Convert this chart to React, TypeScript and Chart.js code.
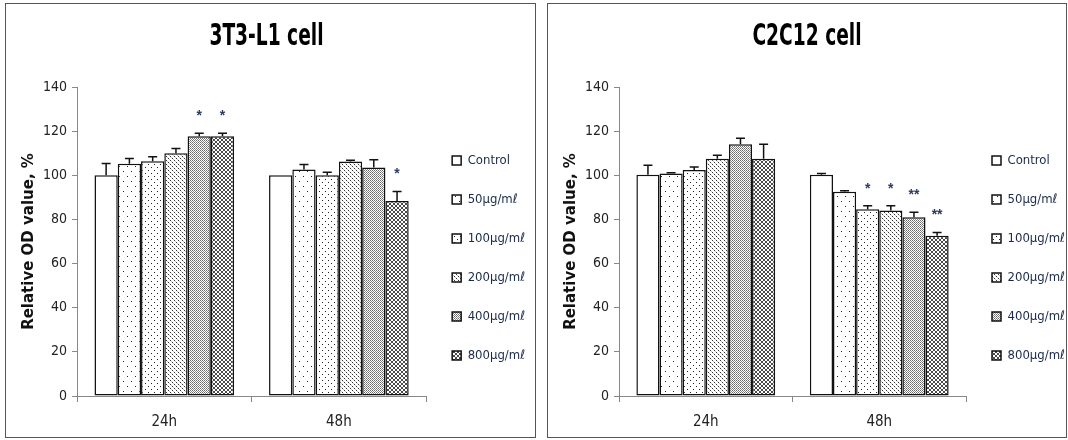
import React, { useEffect, useRef } from 'react';
import { Chart, registerables } from 'chart.js';

Chart.register(...registerables);

// ---------- data ----------
const categories = ['24h', '48h'];
const doses = ['Control', '50µg/mℓ', '100µg/mℓ', '200µg/mℓ', '400µg/mℓ', '800µg/mℓ'];
const yMin = 0;
const yMax = 140;
const yStep = 20;

// 3T3-L1 cell (values per dose, in dose order)
const t3Values24h = [100, 105.2, 106.4, 110, 117.7, 117.7];
const t3Values48h = [100, 102.6, 100, 106.2, 103.5, 88.4];
const t3Err24h = [5.3, 2.4, 2.0, 2.1, 1.4, 1.4];
const t3Err48h = [0, 2.3, 1.4, 0.6, 3.5, 4.3];
const t3Stars24h = ['', '', '', '', '*', '*'];
const t3Stars48h = ['', '', '', '', '', '*'];

// C2C12 cell
const c2Values24h = [100.2, 100.8, 102.4, 107.5, 114.1, 107.5];
const c2Values48h = [100.2, 92.5, 84.6, 84, 81, 72.6];
const c2Err24h = [4.4, 0.3, 1.4, 1.6, 2.7, 6.6];
const c2Err48h = [0.6, 0.5, 1.6, 2.2, 2.2, 1.5];
const c2Stars24h = ['', '', '', '', '', ''];
const c2Stars48h = ['', '', '*', '*', '**', '**'];

const NARROW = "'Liberation Sans Narrow', 'DejaVu Sans Condensed', 'Liberation Sans', sans-serif";

function makePattern(kind: number): CanvasPattern | string {
  if (kind === 0) return '#ffffff';
  const c = document.createElement('canvas');
  const ctx = c.getContext('2d')!;
  const sizes: Record<number, [number, number]> = { 1: [8, 10], 2: [6, 6], 3: [4, 4], 4: [2, 2], 5: [4, 4] };
  const [w, h] = sizes[kind];
  c.width = w;
  c.height = h;
  ctx.fillStyle = '#ffffff';
  ctx.fillRect(0, 0, w, h);
  const dot = (x: number, y: number, col = '#222') => {
    ctx.fillStyle = col;
    ctx.fillRect(x, y, 1, 1);
  };
  if (kind === 1) {
    dot(1, 2);
    dot(5, 7);
  } else if (kind === 2) {
    dot(1, 1);
    dot(4, 4);
  } else if (kind === 3) {
    dot(0, 0, '#333');
    dot(2, 2, '#333');
    dot(1, 1, '#c8c8c8');
    dot(3, 3, '#c8c8c8');
  } else if (kind === 4) {
    dot(0, 0, '#6a6a6a');
    dot(1, 1, '#8a8a8a');
  } else if (kind === 5) {
    const col = '#4a4a4a';
    [[0, 0], [1, 1], [2, 2], [3, 3], [3, 0], [2, 1], [1, 2], [0, 3]].forEach(([x, y]) => dot(x, y, col));
  }
  return ctx.createPattern(c, 'repeat') as CanvasPattern;
}

interface PanelProps {
  left: number;
  width: number;
  title: string;
  titleDx: number;
  v24: number[];
  v48: number[];
  e24: number[];
  e48: number[];
  s24: string[];
  s48: string[];
}

function Panel({ left, width, title, titleDx, v24, v48, e24, e48, s24, s48 }: PanelProps) {
  const ref = useRef<HTMLCanvasElement>(null);
  const cw = width - 2;
  const ch = 433;

  useEffect(() => {
    const errs = doses.map((_, i) => [e24[i], e48[i]]);
    const stars = doses.map((_, i) => [s24[i], s48[i]]);

    const errPlugin = {
      id: 'errorBarsStars',
      afterDatasetsDraw(chart: any) {
        const ctx = chart.ctx;
        const yScale = chart.scales.y;
        chart.data.datasets.forEach((ds: any, di: number) => {
          const meta = chart.getDatasetMeta(di);
          meta.data.forEach((el: any, ci: number) => {
            const v = ds.data[ci];
            const e = errs[di][ci];
            const yTop = yScale.getPixelForValue(v + e);
            ctx.save();
            ctx.strokeStyle = '#111';
            ctx.lineWidth = 1.5;
            if (e > 0) {
              ctx.beginPath();
              ctx.moveTo(el.x, el.y);
              ctx.lineTo(el.x, yTop);
              ctx.moveTo(el.x - 4.5, yTop);
              ctx.lineTo(el.x + 4.5, yTop);
              ctx.stroke();
            }
            const s = stars[di][ci];
            if (s) {
              ctx.fillStyle = '#2b3a66';
              ctx.font = "bold 14px 'Liberation Sans', sans-serif";
              ctx.textAlign = 'center';
              ctx.textBaseline = 'middle';
              ctx.fillText(s, el.x, yTop - 17);
            }
            ctx.restore();
          });
        });
      },
    };

    const titlePlugin = {
      id: 'condensedTitle',
      afterDraw(chart: any) {
        const ctx = chart.ctx;
        ctx.save();
        ctx.font = "bold 30px 'DejaVu Sans Condensed', 'DejaVu Sans', sans-serif";
        ctx.fillStyle = '#000';
        ctx.textAlign = 'center';
        ctx.textBaseline = 'middle';
        ctx.translate(chart.width / 2 + titleDx, 33);
        ctx.scale(0.69, 1);
        ctx.fillText(title, 0, 0);
        ctx.restore();
      },
    };

    const chart = new Chart(ref.current!, {
      type: 'bar',
      data: {
        labels: categories,
        datasets: doses.map((d, i) => ({
          label: d,
          data: [v24[i], v48[i]],
          backgroundColor: makePattern(i) as any,
          borderColor: '#111',
          borderWidth: 1.5,
          borderSkipped: false,
          categoryPercentage: 0.8,
          barPercentage: 1.0,
        })),
      },
      options: {
        responsive: false,
        animation: false,
        devicePixelRatio: 1,
        layout: { padding: { left: 10, right: 0, top: 83, bottom: -5 } },
        plugins: {
          title: { display: false },
          legend: {
            position: 'right',
            align: 'start',
            maxWidth: cw - 418,
            labels: {
              boxWidth: 9,
              boxHeight: 9,
              padding: 26,
              color: '#1a2a4a',
              font: { size: 13, family: NARROW },
            },
            title: { display: true, text: '', padding: { top: 29, bottom: 0 }, font: { size: 10 } },
          },
          tooltip: { enabled: false },
        },
        scales: {
          x: {
            grid: { offset: true, drawOnChartArea: false, tickLength: 6, color: '#888' },
            border: { color: '#888', width: 1 },
            ticks: { color: '#222', padding: 11, font: { size: 15, family: NARROW } },
          },
          y: {
            min: yMin,
            max: yMax,
            ticks: { stepSize: yStep, color: '#222', padding: 5, font: { size: 14, family: NARROW } },
            grid: { drawOnChartArea: false, tickLength: 5, color: '#888' },
            border: { color: '#888', width: 1 },
            title: {
              display: true,
              text: 'Relative OD value, %',
              color: '#111',
              font: { size: 15, weight: 'bold', family: "'DejaVu Sans', sans-serif" },
              padding: { top: 4, bottom: 0 },
            },
          },
        },
      } as any,
      plugins: [errPlugin, titlePlugin],
    });
    return () => chart.destroy();
  }, []);

  return (
    <div
      style={{
        position: 'absolute',
        left,
        top: 3,
        width,
        height: ch + 2,
        border: '1px solid #555',
        boxSizing: 'border-box',
        background: '#fff',
      }}
    >
      <canvas ref={ref} width={cw} height={ch} style={{ display: 'block', width: cw, height: ch }} />
    </div>
  );
}

export default function App() {
  return (
    <div style={{ position: 'fixed', left: 0, top: 0, width: 1068, height: 440, background: '#fff', overflow: 'hidden' }}>
      <Panel left={5} width={531} title="3T3-L1 cell" titleDx={-4} v24={t3Values24h} v48={t3Values48h} e24={t3Err24h} e48={t3Err48h} s24={t3Stars24h} s48={t3Stars48h} />
      <Panel left={547} width={520} title="C2C12 cell" titleDx={0} v24={c2Values24h} v48={c2Values48h} e24={c2Err24h} e48={c2Err48h} s24={c2Stars24h} s48={c2Stars48h} />
    </div>
  );
}
